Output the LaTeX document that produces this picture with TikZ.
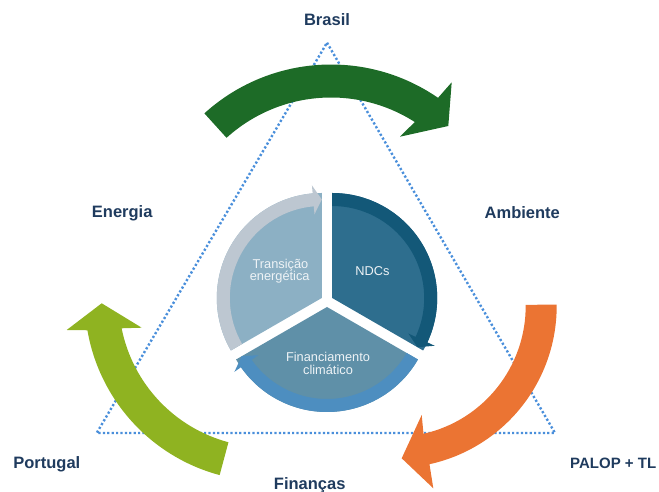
\documentclass[tikz,border=0pt]{standalone}
\usepackage{fontspec}
\setmainfont{Liberation Sans}
\definecolor{labelc}{HTML}{1F3B5E}
\definecolor{dotc}{HTML}{4A8FDB}
\definecolor{greenarr}{HTML}{1D6B27}
\definecolor{orangearr}{HTML}{EB7433}
\definecolor{limearr}{HTML}{8FB321}
\definecolor{tfill}{HTML}{8CB0C4}
\definecolor{tband}{HTML}{BDC7D1}
\definecolor{nfill}{HTML}{2E6E8E}
\definecolor{nband}{HTML}{135878}
\definecolor{ffill}{HTML}{5F90A8}
\definecolor{fband}{HTML}{4D8EC0}
\definecolor{pietxt}{HTML}{EEF3F6}
\newcommand{\PieSegment}[6]{%
 \fill[#5] (#1) -- ([shift={(#1)}]#2:105) arc[start angle=#2,end angle=#3,radius=105] -- cycle;
 \fill[#6] ([shift={(#1)}]#2:105) arc[start angle=#2,end angle=#4,radius=105]
   -- ([shift={(#1)}]#4:113) -- ([shift={(#1)}]#3:98.5) -- ([shift={(#1)}]#4:84)
   -- ([shift={(#1)}]#4:92) arc[start angle=#4,end angle=#2,radius=92] -- cycle;}
\begin{document}
\begin{tikzpicture}[x=1pt,y=1pt,
  lbl/.style={text=labelc, font=\fontsize{16.5}{18}\selectfont\bfseries, anchor=base, inner sep=0pt},
  pietext/.style={text=pietxt, font=\fontsize{12.8}{14}\selectfont, anchor=base, inner sep=0pt},
  dotline/.style={draw=dotc, line width=2.4pt, dash pattern=on 2.2pt off 2.2pt}]
\useasboundingbox (0,0) rectangle (659,492);
% triangle
\coordinate (apex) at (327,449.3);
\coordinate (bl) at (96.7,59);
\coordinate (br) at (555,59);
\draw[dotline] (apex) -- (br) -- (bl) -- cycle;
% pie
\coordinate (cT) at (321.8,194);
\coordinate (cN) at (332.2,194);
\coordinate (cF) at (327,185);
\PieSegment{cT}{210}{90}{95}{tfill}{tband}
\PieSegment{cN}{90}{-30}{-25}{nfill}{nband}
\PieSegment{cF}{-30}{-150}{-145}{ffill}{fband}
\node[pietext] (t1) at (280.5,223.7) {Transição};
\node[pietext] (t2) at (279.7,211) {energética};
\node[pietext] (t3) at (372.5,216.3) {NDCs};
\node[pietext] (t4) at (328,130.3) {Financiamento};
\node[pietext] (t5) at (328,117) {climático};
% green arrow
\coordinate (gC) at (331,239);
\fill[greenarr] ([shift={(gC)}]132.2:188.5) arc[start angle=132.2,end angle=55.4,radius=188.5]
  -- (451.7,409.7) -- (448.3,366) -- (400,355.3)
  -- ([shift={(gC)}]57.4:155.5) arc[start angle=57.4,end angle=132.2,radius=155.5] -- cycle;
% orange arrow
\coordinate (oC) at (394.7,186);
\fill[orangearr] ([shift={(oC)}]0.5:162) arc[start angle=0.5,end angle=-77.6,radius=162]
  -- (433.3,3.7) -- (401.7,33.7) -- (421.7,77)
  -- ([shift={(oC)}]-77.3:131) arc[start angle=-77.3,end angle=0.5,radius=131] -- cycle;
% lime arrow
\coordinate (lC) at (266.75,192.7);
\fill[limearr] ([shift={(lC)}]255:182) arc[start angle=255,end angle=189.8,radius=182]
  -- (66.7,162) -- (101.7,188.7) -- (141.7,164.3)
  -- ([shift={(lC)}]191.3:148) arc[start angle=191.3,end angle=255,radius=148] -- cycle;
% labels
\node[lbl] (brasil) at (327,466) {Brasil};
\node[lbl] (energia) at (122.2,274.3) {Energia};
\node[lbl] (ambiente) at (522.3,273.7) {Ambiente};
\node[lbl] (portugal) at (46.8,23.7) {Portugal};
\node[lbl] (financas) at (309.7,2.3) {Finanças};
\node[lbl, anchor=base west, font=\fontsize{15}{17}\selectfont\bfseries] (palop) at (570,23.7) {PALOP + TL};
\end{tikzpicture}
\end{document}
